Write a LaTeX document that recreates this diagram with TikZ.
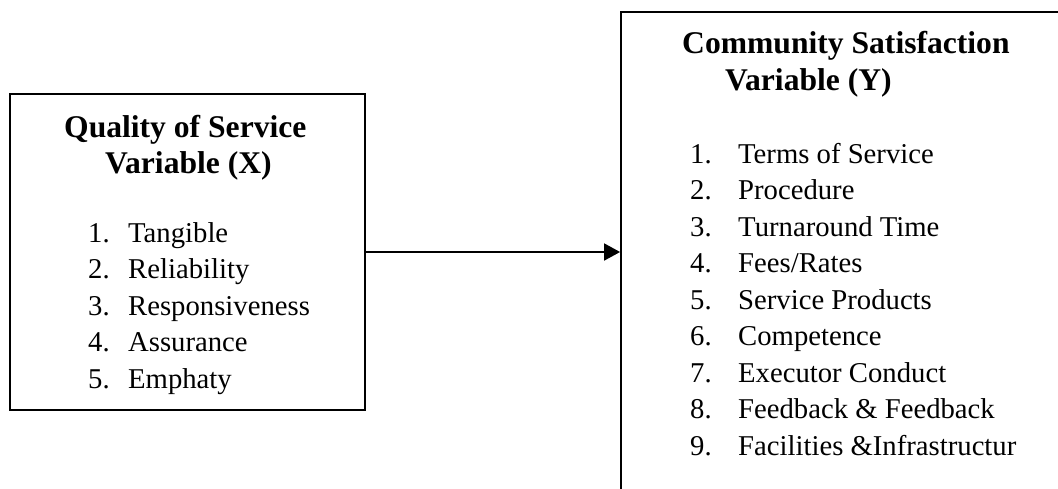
\documentclass[tikz,border=0pt]{standalone}
\usepackage{fontspec}
\setmainfont{Liberation Serif}
\usetikzlibrary{arrows.meta}

\tikzset{
  varbox/.style={draw=black,line width=1.8pt,inner sep=0pt},
  title/.style={anchor=base west,inner sep=0pt,font=\fontsize{31.6}{37}\selectfont\bfseries},
  item/.style={anchor=base west,inner sep=0pt,font=\fontsize{28.7}{36.5}\selectfont},
}

\begin{document}
\begin{tikzpicture}[x=1pt,y=-1pt]

%FRAME
\useasboundingbox (0,0) rectangle (1058,488);
\clip (0,0) rectangle (1058,488);
%FRAME

\node[varbox,minimum width=355pt,minimum height=316pt](qual) at (187.5,252) {};
\node[varbox,minimum width=460pt,minimum height=490pt](sat) at (851,257) {};

\node[title](qt1) at (64,137) {Quality of Service};
\node[title](qt2) at (105,173) {Variable (X)};

\node[item](q1) at (88,242) {\makebox[40pt][l]{1.}Tangible};
\node[item](q2) at (88,278.5) {\makebox[40pt][l]{2.}Reliability};
\node[item](q3) at (88,315) {\makebox[40pt][l]{3.}Responsiveness};
\node[item](q4) at (88,351.5) {\makebox[40pt][l]{4.}Assurance};
\node[item](q5) at (88,388) {\makebox[40pt][l]{5.}Emphaty};

\node[title](st1) at (682,53) {Community Satisfaction};
\node[title](st2) at (725,90) {Variable (Y)};

\node[item](s1) at (690,163) {\makebox[48pt][l]{1.}Terms of Service};
\node[item](s2) at (690,199.5) {\makebox[48pt][l]{2.}Procedure};
\node[item](s3) at (690,236) {\makebox[48pt][l]{3.}Turnaround Time};
\node[item](s4) at (690,272.5) {\makebox[48pt][l]{4.}Fees/Rates};
\node[item](s5) at (690,309) {\makebox[48pt][l]{5.}Service Products};
\node[item](s6) at (690,345.5) {\makebox[48pt][l]{6.}Competence};
\node[item](s7) at (690,382) {\makebox[48pt][l]{7.}Executor Conduct};
\node[item](s8) at (690,418.5) {\makebox[48pt][l]{8.}Feedback \& Feedback};
\node[item](s9) at (690,455) {\makebox[48pt][l]{9.}Facilities \&Infrastructur};

\draw[-{Triangle[length=16pt,width=17pt]},line width=1.8pt] (qual.east) -- (qual.east -| sat.west);

\end{tikzpicture}
\end{document}
